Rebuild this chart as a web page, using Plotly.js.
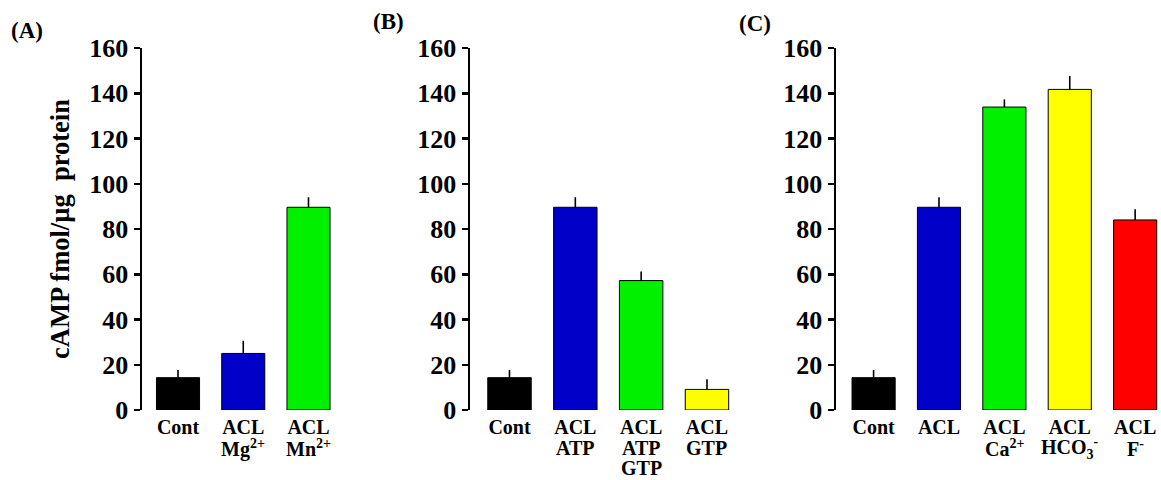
<!DOCTYPE html>
<html>
<head>
<meta charset="utf-8">
<script src="https://cdn.plot.ly/plotly-3.0.1.min.js"></script>
<style>html,body{margin:0;padding:0;background:#fff;}#chart{width:1161px;height:480px;}</style>
</head>
<body>
<div id="chart"></div>
<script>
// ---- data ----
const catsA = ["Cont", "ACL|Mg<sup>2+</sup>", "ACL|Mn<sup>2+</sup>"];
const valsA = [14.3, 25.0, 89.6];
const errsA = [3.4, 5.6, 4.4];
const colorsA = ["#000000", "#0000C8", "#00F000"];

const catsB = ["Cont", "ACL|ATP", "ACL|ATP|GTP", "ACL|GTP"];
const valsB = [14.3, 89.6, 57.2, 9.1];
const errsB = [3.4, 4.4, 4.0, 4.5];
const colorsB = ["#000000", "#0000C8", "#00F000", "#FFFF00"];

const catsC = ["Cont", "ACL", "ACL|Ca<sup>2+</sup>", "ACL|HCO<sub>3</sub><sup>-</sup>", "ACL|F<sup>-</sup>"];
const valsC = [14.3, 89.6, 133.9, 141.7, 84.0];
const errsC = [3.4, 4.4, 3.4, 5.9, 4.7];
const colorsC = ["#000000", "#0000C8", "#00F000", "#FFFF00", "#FF0000"];

const panelLabels = ["(A)", "(B)", "(C)"];
const yTitle = "cAMP fmol/µg  protein";
const yTicks = [0, 20, 40, 60, 80, 100, 120, 140, 160];

// ---- layout helpers ----
const W = 1161, H = 480;
const FONT = "'Liberation Serif', 'Times New Roman', serif";
const yDom = [1 - 410 / H, 1 - 48 / H];

function bar(cats, vals, errs, colors, xa, ya) {
  return {
    type: "bar",
    x: cats.map((c, i) => i),
    y: vals,
    width: 0.66,
    marker: { color: colors, line: { color: "#000", width: 1 } },
    error_y: { type: "data", symmetric: false, array: errs, arrayminus: errs.map(() => 0),
               width: 0, thickness: 1.6, color: "#000" },
    xaxis: xa, yaxis: ya, showlegend: false, hoverinfo: "none"
  };
}

function xaxisDef(cats, range, domPx, anchor) {
  return {
    domain: [domPx[0] / W, domPx[1] / W],
    range: range,
    anchor: anchor,
    tickmode: "array",
    tickvals: cats.map((c, i) => i),
    ticktext: cats.map(c => c.split("|")[0]),
    ticks: "", showline: false, showgrid: false, zeroline: false,
    ticklabelstandoff: 3,
    tickfont: { family: FONT, size: 20, color: "#000", weight: "bold" },
    fixedrange: true
  };
}

function yaxisDef(anchor, title) {
  const d = {
    domain: yDom, range: [0, 160], anchor: anchor,
    tickmode: "array", tickvals: yTicks,
    showline: true, linewidth: 2.5, linecolor: "#000",
    ticks: "outside", ticklen: 6, tickwidth: 2.5, tickcolor: "#000",
    showgrid: false, zeroline: false,
    tickfont: { family: FONT, size: 26, color: "#000", weight: "bold" },
    automargin: false, fixedrange: true
  };
  if (title) d.title = { text: title, standoff: 12, font: { family: FONT, size: 26.5, color: "#000", weight: "bold" } };
  return d;
}

const data = [
  bar(catsA, valsA, errsA, colorsA, "x", "y"),
  bar(catsB, valsB, errsB, colorsB, "x2", "y2"),
  bar(catsC, valsC, errsC, colorsC, "x3", "y3")
];

// extra label lines under the categories
const annotations = [];
const lineY = [448, 468];
[[catsA, "x"], [catsB, "x2"], [catsC, "x3"]].forEach(([cats, xr]) => {
  cats.forEach((c, i) => {
    const parts = c.split("|").slice(1);
    parts.forEach((p, k) => {
      annotations.push({
        xref: xr, yref: "paper", x: i, y: 1 - lineY[k] / H,
        text: p, showarrow: false, xanchor: "center", yanchor: "middle",
        font: { family: FONT, size: 20, color: "#000", weight: "bold" }
      });
    });
  });
});
const panelPos = [[27, 30], [388, 22], [755, 23]];
panelLabels.forEach((t, i) => {
  annotations.push({
    xref: "paper", yref: "paper", x: panelPos[i][0] / W, y: 1 - panelPos[i][1] / H,
    text: t, showarrow: false, xanchor: "center", yanchor: "middle",
    font: { family: FONT, size: 23, color: "#000", weight: "bold" }
  });
});

const layout = {
  width: W, height: H,
  margin: { l: 0, r: 0, t: 0, b: 0 },
  paper_bgcolor: "#fff", plot_bgcolor: "rgba(0,0,0,0)",
  bargap: 0.3,
  xaxis: xaxisDef(catsA, [-0.552, 2.4], [142, 334.6], "y"),
  xaxis2: xaxisDef(catsB, [-0.6, 3.4], [470, 733.3], "y2"),
  xaxis3: xaxisDef(catsC, [-0.575, 4.38], [836, 1160], "y3"),
  yaxis: yaxisDef("x", yTitle),
  yaxis2: yaxisDef("x2"),
  yaxis3: yaxisDef("x3"),
  annotations: annotations
};

Plotly.newPlot("chart", data, layout, { staticPlot: true, displayModeBar: false });
</script>
</body>
</html>
